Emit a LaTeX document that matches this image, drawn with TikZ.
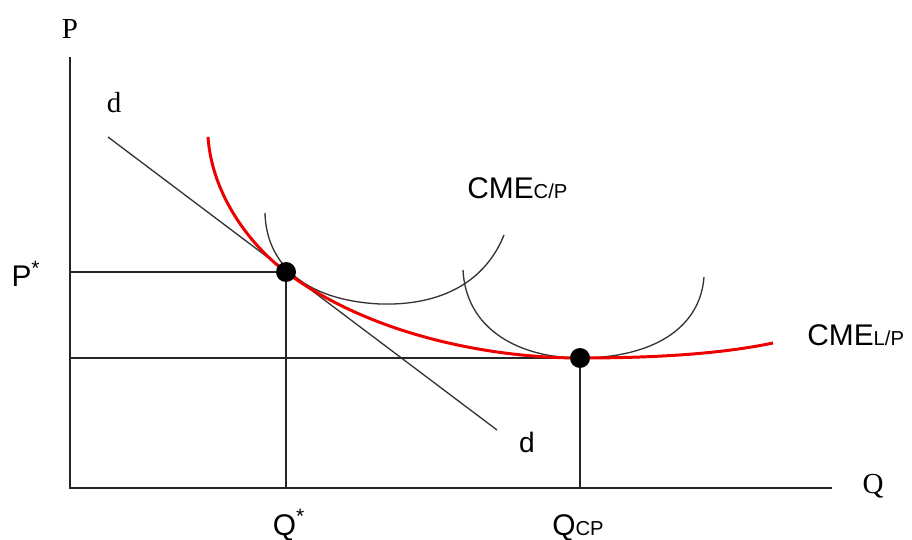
\documentclass[tikz,border=0pt]{standalone}
\usepackage{fontspec}
\setmainfont{Liberation Sans}
\newfontfamily\axisfont{Liberation Serif}
\usetikzlibrary{positioning,calc}
\definecolor{lrred}{RGB}{237,0,0}
\newcommand{\smallsub}[1]{{\fontsize{11.5}{12}\selectfont #1}}

\begin{document}
\begin{tikzpicture}[x=0.02cm, y=-0.02cm,
    axis/.style={line width=0.9pt, black!85},
    guide/.style={line width=0.8pt, black!85},
    srcurve/.style={line width=0.75pt, black!80},
    lrcurve/.style={line width=1.7pt, lrred},
    dot/.style={circle, fill=black, inner sep=0pt, minimum size=0.4cm},
    lab/.style={font=\fontsize{17}{20}\selectfont, inner sep=0pt},
    axlab/.style={font=\axisfont\fontsize{16.5}{19}\selectfont, inner sep=0pt}
]
    \useasboundingbox (0,0) rectangle (912,540);
    % axes
    \coordinate (O) at (70,488);
    \coordinate (ytop) at (70,57);
    \coordinate (xend) at (832,488);
    \draw[axis] (ytop) -- (O) -- (xend);
    \node[axlab] (plab) at (70,29) {P};
    \node[axlab] (qlab) at (873,486) {Q};
    % demand
    \coordinate (d1) at (108,137);
    \coordinate (d2) at (497,430);
    \draw[srcurve] (d1) -- (d2);
    \node[axlab] (dtop) at (114,103) {d};
    \node[lab, font=\fontsize{16}{18}\selectfont] (dbot) at (527,442) {d};
    % equilibrium points
    \coordinate (e1) at (286,272);
    \coordinate (e2) at (580,358);
    \draw[guide] (e1 -| O) -- (e1) -- (e1 |- O);
    \draw[guide] (e2 -| O) -- (e2) -- (e2 |- O);
    % short-run curves
    \draw[srcurve] (265,213) .. controls (266,260) and (300,300) .. (380,304)
        .. controls (450,306) and (488,275) .. (504,235);
    \draw[srcurve] (463,270) .. controls (466,330) and (520,358) .. (e2)
        .. controls (650,358) and (700,330) .. (704,277);
    % long-run curve
    \draw[lrcurve] (208,137) .. controls (212,195) and (250,245) .. (e1)
        .. controls (370,335) and (490,358) .. (e2)
        .. controls (670,358) and (730,352) .. (773,343);
    \node[dot] (p1) at (e1) {};
    \node[dot] (p2) at (e2) {};
    % labels
    \node[lab, anchor=base west] (cmecp) at (467,199) {CME\smallsub{C/P}};
    \node[lab, anchor=base west] (cmelp) at (807,345) {CME\smallsub{L/P}};
    \node[lab] (pstar) at (26,274) {P\textsuperscript{*}};
    \node[lab, anchor=base] (qstar) at (289,535) {Q\textsuperscript{*}};
    \node[lab, anchor=base] (qcp) at (578,535) {Q\smallsub{CP}};
\end{tikzpicture}
\end{document}
